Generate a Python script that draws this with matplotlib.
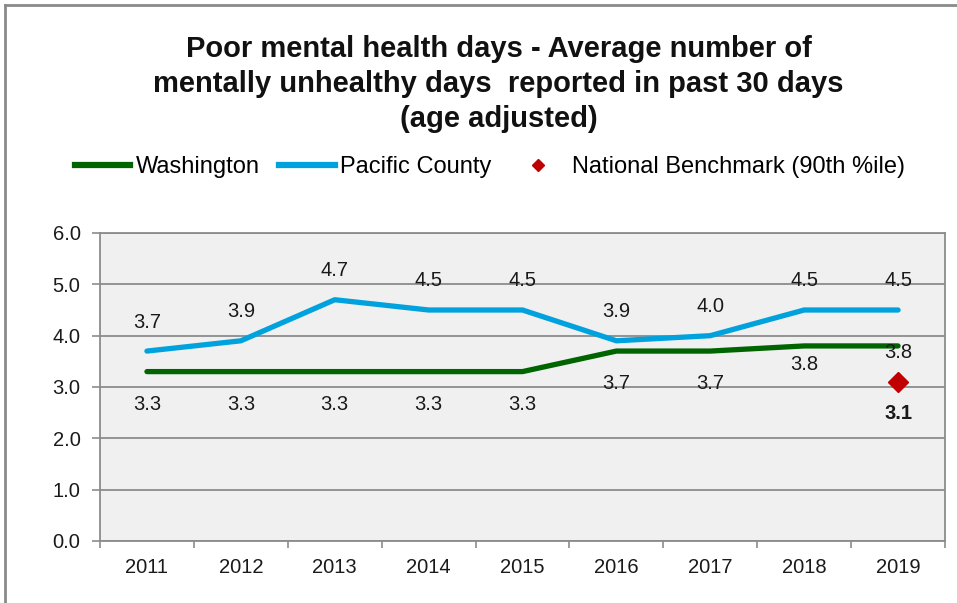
import numpy as np
from matplotlib import pyplot as plt
from matplotlib.lines import Line2D

years = ['2011', '2012', '2013', '2014', '2015', '2016', '2017', '2018', '2019']
washington = [3.3, 3.3, 3.3, 3.3, 3.3, 3.7, 3.7, 3.8, 3.8]
pacific = [3.7, 3.9, 4.7, 4.5, 4.5, 3.9, 4.0, 4.5, 4.5]
benchmark_year = '2019'
benchmark = 3.1
y_ticks = [0.0, 1.0, 2.0, 3.0, 4.0, 5.0, 6.0]

green = '#006400'
blue = '#00a2de'
red = '#c00000'
grid_gray = '#8c8c8c'

plt.rcParams['font.family'] = ['Liberation Sans', 'DejaVu Sans']

fig = plt.figure(figsize=(9.57, 6.03), dpi=100)
ax = fig.add_axes([100 / 957, 62 / 603, 845 / 957, 308 / 603])
ax.set_facecolor('#f0f0f0')

x = np.arange(len(years))
ax.plot(x, washington, color=green, lw=3.8, solid_capstyle='round', zorder=3)
ax.plot(x, pacific, color=blue, lw=3.8, solid_capstyle='round', zorder=3)
bx = years.index(benchmark_year)
ax.plot([bx], [benchmark], marker='D', color=red, ms=10, ls='none', zorder=4)

# data labels, offsets in pixels (washington labels were nudged in the original)
wa_offsets = [-33, -33, -33, -33, -33, -32, -32, -19, -7]
for i, v in enumerate(pacific):
    ax.annotate(f'{v:.1f}', (x[i], v), xytext=(0, 29), textcoords='offset pixels',
                ha='center', va='center', fontsize=14.5, color='#1a1a1a', zorder=5)
for i, v in enumerate(washington):
    ax.annotate(f'{v:.1f}', (x[i], v), xytext=(0, wa_offsets[i]), textcoords='offset pixels',
                ha='center', va='center', fontsize=14.5, color='#1a1a1a', zorder=5)
ax.annotate(f'{benchmark:.1f}', (bx, benchmark), xytext=(0, -32), textcoords='offset pixels',
            ha='center', va='center', fontsize=14.5, fontweight='bold', color='#1a1a1a')

ax.set_xlim(-0.5, len(years) - 0.5)
ax.set_ylim(0, 6)
ax.set_yticks(y_ticks)
ax.set_yticklabels([f'{t:.1f}' for t in y_ticks])
ax.set_xticks(x)
ax.set_xticklabels(years)
ax.set_xticks(np.arange(-0.5, len(years)), minor=True)
ax.tick_params(axis='x', which='major', length=0, pad=12, labelsize=14.5, labelcolor='#1a1a1a')
ax.tick_params(axis='x', which='minor', length=5, width=1.2, color=grid_gray, direction='out')
ax.tick_params(axis='y', length=6, width=1.2, color=grid_gray, pad=8, labelsize=14.5,
               labelcolor='#1a1a1a')
ax.grid(axis='y', color=grid_gray, lw=1.3, zorder=1)
ax.set_axisbelow(True)
for side in ['left', 'bottom', 'right', 'top']:
    ax.spines[side].set_color(grid_gray)
    ax.spines[side].set_linewidth(1.3)

fig.text(0.521, 1 - 84 / 603,
         'Poor mental health days - Average number of\n'
         'mentally unhealthy days  reported in past 30 days\n'
         '(age adjusted)',
         ha='center', va='center', fontsize=21, fontweight='bold',
         linespacing=1.3, color='#111111')

handles = [Line2D([], [], color=green, lw=4.5),
           Line2D([], [], color=blue, lw=4.5),
           Line2D([], [], color=red, marker='D', ms=6, ls='none')]
fig.legend(handles, ['Washington', 'Pacific County', 'National Benchmark (90th %ile)'],
           loc='center', bbox_to_anchor=(0.512, 1 - 167 / 603), ncol=3, frameon=False,
           fontsize=17, handlelength=2.35, handletextpad=0.25, columnspacing=0.8)

# outer chart border (left and top visible)
fig.add_artist(Line2D([5 / 957, 5 / 957], [0, 1 - 5 / 603], color='#8a8a8a', lw=2))
fig.add_artist(Line2D([5 / 957, 1], [1 - 5 / 603, 1 - 5 / 603], color='#8a8a8a', lw=2))

fig.savefig('out.png', dpi=100)
